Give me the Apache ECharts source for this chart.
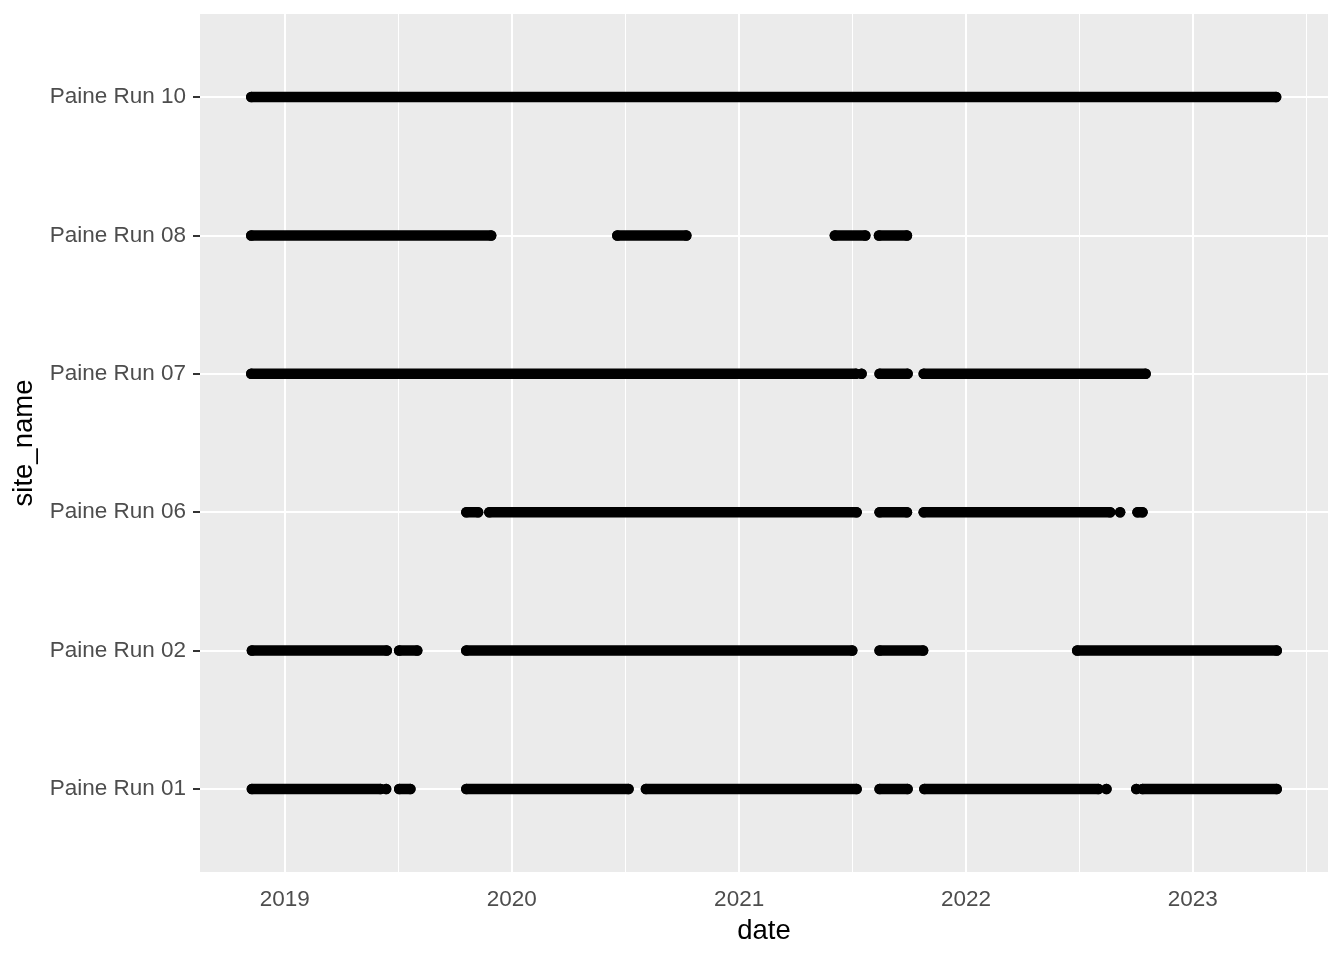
<!DOCTYPE html>
<html>
<head>
<meta charset="utf-8">
<script src="https://cdn.jsdelivr.net/npm/echarts@6/dist/echarts.min.js"></script>
<style>
html,body{margin:0;padding:0;background:#fff;}
#chart{width:1344px;height:960px;}
</style>
</head>
<body>
<div id="chart"></div>
<script>
// ---- data ----
const sites = ['Paine Run 01', 'Paine Run 02', 'Paine Run 06', 'Paine Run 07', 'Paine Run 08', 'Paine Run 10'];

const run01 = [
  ['2018-11-09', '2019-06-04'], ['2019-06-13', '2019-06-13'], ['2019-07-04', '2019-07-22'],
  ['2019-10-20', '2020-07-07'], ['2020-08-04', '2021-07-09'], ['2021-08-15', '2021-09-29'],
  ['2021-10-26', '2022-08-02'], ['2022-08-15', '2022-08-15'], ['2022-10-02', '2022-10-02'],
  ['2022-10-12', '2023-05-16']
];
const run02 = [
  ['2018-11-09', '2019-06-14'], ['2019-07-04', '2019-08-02'], ['2019-10-20', '2021-07-02'],
  ['2021-08-15', '2021-10-24'], ['2022-06-29', '2023-05-16']
];
const run06 = [
  ['2019-10-20', '2019-11-08'], ['2019-11-26', '2021-07-09'], ['2021-08-15', '2021-09-28'],
  ['2021-10-25', '2022-08-21'], ['2022-09-06', '2022-09-06'], ['2022-10-04', '2022-10-12']
];
const run07 = [
  ['2018-11-08', '2021-07-08'], ['2021-07-17', '2021-07-17'], ['2021-08-15', '2021-09-29'],
  ['2021-10-25', '2022-10-17']
];
const run08 = [
  ['2018-11-08', '2019-11-29'], ['2020-06-19', '2020-10-08'], ['2021-06-04', '2021-07-23'],
  ['2021-08-14', '2021-09-28']
];
const run10 = [
  ['2018-11-08', '2023-05-15']
];
const runsBySite = [run01, run02, run06, run07, run08, run10];

const tickYears = [2019, 2020, 2021, 2022, 2023];

// ---- helpers ----
function ts(s) {
  const p = s.split('-').map(Number);
  return Date.UTC(p[0], p[1] - 1, p[2]);
}
const yearStart = y => Date.UTC(y, 0, 1);

let dMin = Infinity, dMax = -Infinity;
runsBySite.forEach(runs => runs.forEach(r => {
  dMin = Math.min(dMin, ts(r[0]));
  dMax = Math.max(dMax, ts(r[1]));
}));
const span = dMax - dMin;
const xMin = dMin - 0.05 * span;
const xMax = dMax + 0.05 * span;

const majorTicks = tickYears.map(yearStart);
const minorTicks = tickYears.map(y => (yearStart(y) + yearStart(y + 1)) / 2);

const series = [];
// gridlines drawn underneath the data
series.push({
  type: 'line',
  data: [],
  z: 1,
  silent: true,
  markLine: {
    z: 1,
    silent: true,
    symbol: ['none', 'none'],
    label: { show: false },
    emphasis: { disabled: true },
    animation: false,
    data: [
      ...minorTicks.map(v => ({ xAxis: v, lineStyle: { color: '#ffffff', width: 1, type: 'solid' } })),
      ...majorTicks.map(v => ({ xAxis: v, lineStyle: { color: '#ffffff', width: 2, type: 'solid' } })),
      ...sites.map((s, i) => ({ yAxis: i, lineStyle: { color: '#ffffff', width: 2, type: 'solid' } }))
    ]
  }
});

runsBySite.forEach((runs, i) => {
  runs.forEach(r => {
    series.push({
      type: 'line',
      z: 10,
      silent: true,
      animation: false,
      data: [[ts(r[0]), i], [ts(r[1]), i]],
      showSymbol: true,
      showAllSymbol: true,
      symbol: 'circle',
      symbolSize: 10.5,
      itemStyle: { color: '#000000' },
      lineStyle: { color: '#000000', width: 10.5, cap: 'round' }
    });
  });
});

const chart = echarts.init(document.getElementById('chart'), null, { renderer: 'canvas' });
chart.setOption({
  animation: false,
  backgroundColor: '#ffffff',
  textStyle: { fontFamily: 'Liberation Sans, Arial, sans-serif' },
  grid: {
    left: 200, right: 16, top: 14, bottom: 88,
    show: true, backgroundColor: '#EBEBEB', borderWidth: 0
  },
  xAxis: {
    type: 'value',
    min: xMin,
    max: xMax,
    scale: true,
    name: 'date',
    nameLocation: 'middle',
    nameGap: 45,
    nameTextStyle: { fontSize: 27.5, color: '#000000', fontFamily: 'Liberation Sans, Arial, sans-serif' },
    axisLine: { show: false },
    axisTick: { show: true, length: 7, lineStyle: { color: '#333333', width: 2 }, customValues: majorTicks },
    axisLabel: {
      customValues: majorTicks,
      fontSize: 22.5, color: '#4D4D4D', margin: 16,
      fontFamily: 'Liberation Sans, Arial, sans-serif',
      formatter: v => String(new Date(v).getUTCFullYear())
    },
    splitLine: { show: false },
    minorSplitLine: { show: false }
  },
  yAxis: {
    type: 'value',
    min: -0.6,
    max: 5.6,
    name: 'site_name',
    nameLocation: 'middle',
    nameGap: 156,
    nameRotate: 90,
    nameTextStyle: { fontSize: 27.5, color: '#000000', fontFamily: 'Liberation Sans, Arial, sans-serif' },
    axisLine: { show: false },
    axisTick: { show: true, length: 7, lineStyle: { color: '#333333', width: 2 }, customValues: [0, 1, 2, 3, 4, 5] },
    axisLabel: {
      customValues: [0, 1, 2, 3, 4, 5],
      fontSize: 22.5, color: '#4D4D4D', margin: 14,
      fontFamily: 'Liberation Sans, Arial, sans-serif',
      padding: [6, 0, 0, 0],
      formatter: v => sites[Math.round(v)] || ''
    },
    splitLine: { show: false }
  },
  series: series
});
</script>
</body>
</html>
